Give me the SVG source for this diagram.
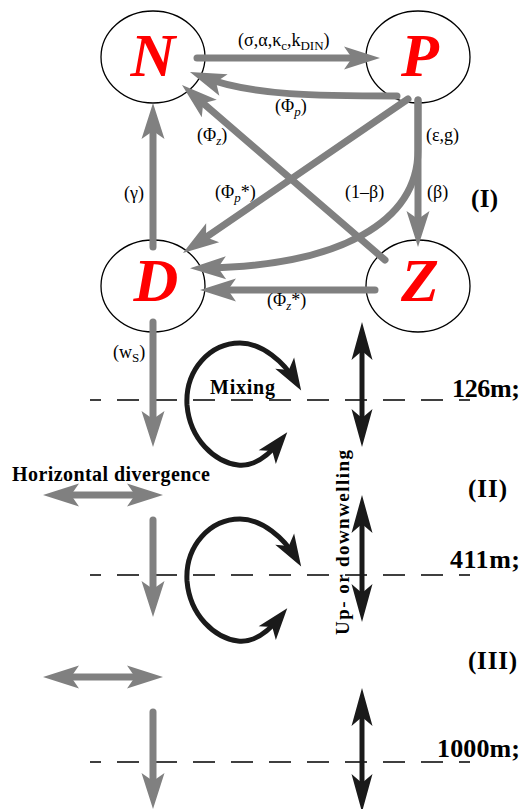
<svg xmlns="http://www.w3.org/2000/svg" width="525" height="809" viewBox="0 0 525 809">
<style>
.node{fill:#fff;stroke:#000;stroke-width:1.3}
.big{font-family:"Liberation Serif",serif;font-weight:bold;font-style:italic;font-size:62px;fill:#f00;text-anchor:middle}
.g{fill:none;stroke:#808080;stroke-width:7;stroke-linecap:round}
.k{fill:none;stroke:#1a1a1a;stroke-width:5}
.lbl{font-family:"Liberation Serif",serif;font-size:18px;fill:#000}
.b{font-family:"Liberation Serif",serif;font-weight:bold;fill:#000}
.dash{stroke:#000;stroke-width:1.3;stroke-dasharray:22 16;stroke-dashoffset:11}
</style>
<defs>
<marker id="ga" markerUnits="userSpaceOnUse" orient="auto-start-reverse" refX="-14" refY="0" markerWidth="1" markerHeight="1" overflow="visible">
<path d="M0,0 L-36,-11.5 L-28,0 L-36,11.5 Z" fill="#808080"/>
</marker>
<marker id="ka" markerUnits="userSpaceOnUse" orient="auto-start-reverse" refX="-12" refY="0" markerWidth="1" markerHeight="1" overflow="visible">
<path d="M0,0 L-38,-10.5 L-29,0 L-38,10.5 Z" fill="#1a1a1a"/>
</marker>
<marker id="ma" markerUnits="userSpaceOnUse" orient="auto-start-reverse" refX="-10" refY="0" markerWidth="1" markerHeight="1" overflow="visible">
<path d="M0,0 L-32,-11 L-24,0 L-32,11 Z" fill="#1a1a1a"/>
</marker>
</defs>
<rect width="525" height="809" fill="#fff"/>

<g id="layers">
<line class="dash" x1="90" y1="400" x2="470" y2="400"/>
<line class="dash" x1="90" y1="575" x2="470" y2="575"/>
<line class="dash" x1="90" y1="762" x2="470" y2="762"/>
</g>

<g id="node-N"><ellipse class="node" cx="153" cy="57" rx="52" ry="46"/><text class="big" x="153" y="76">N</text></g>
<g id="node-P"><ellipse class="node" cx="418" cy="57" rx="52" ry="46"/><text class="big" x="420" y="76">P</text></g>
<g id="node-D"><ellipse class="node" cx="153" cy="286" rx="52" ry="46"/><text class="big" x="156" y="301">D</text></g>
<g id="node-Z"><ellipse class="node" cx="418" cy="286" rx="52" ry="46"/><text class="big" x="420" y="301">Z</text></g>

<g id="connectors">
<path class="g" d="M197,58 L366,58" marker-end="url(#ga)"/>
<path class="g" d="M397,96 C320,96 252,96 203,77" marker-end="url(#ga)"/>
<path class="g" d="M385,260 L192.6,94.1" marker-end="url(#ga)"/>
<path class="g" d="M408,99 L194.5,245.1" marker-end="url(#ga)"/>
<path class="g" d="M418,100 L418,233" marker-end="url(#ga)"/>
<path class="g" d="M418,100 L418,150 C418,222 340,266 204,268" marker-end="url(#ga)"/>
<path class="g" d="M153,247 L153,117" marker-end="url(#ga)"/>
<path class="g" d="M375,290 L214,290" marker-end="url(#ga)"/>
<path class="g" d="M153,322 L153,433" marker-end="url(#ga)"/>
<path class="g" d="M153,520 L153,603" marker-end="url(#ga)"/>
<path class="g" d="M153,712 L153,795" marker-end="url(#ga)"/>
<path class="g" d="M57,495 L149,495" style="stroke-linecap:butt" marker-start="url(#ga)" marker-end="url(#ga)"/>
<path class="g" d="M57,677 L149,677" style="stroke-linecap:butt" marker-start="url(#ga)" marker-end="url(#ga)"/>
<path class="k" d="M362,334 L362,435" marker-start="url(#ka)" marker-end="url(#ka)"/>
<path class="k" d="M362,507 L362,610" marker-start="url(#ka)" marker-end="url(#ka)"/>
<path class="k" d="M362,700 L362,800" marker-start="url(#ka)" marker-end="url(#ka)"/>
<path class="k" d="M281,440 C269,455 255,467 238,465 C215,462 190,440 187,405 C185,370 210,343 240,343 C262,343 284,362 296,382" marker-start="url(#ma)" marker-end="url(#ma)"/>
<path class="k" transform="translate(0,176)" d="M281,440 C269,455 255,467 238,465 C215,462 190,440 187,405 C185,370 210,343 240,343 C262,343 284,362 296,382" marker-start="url(#ma)" marker-end="url(#ma)"/>
</g>

<g id="labels">
<text class="lbl" x="238" y="46">(σ,α,κ<tspan font-size="13" dy="4">c</tspan><tspan dy="-4">,k</tspan><tspan font-size="13" dy="4">DIN</tspan><tspan dy="-4">)</tspan></text>
<text class="lbl" x="275" y="112">(Φ<tspan font-size="13" font-style="italic" dy="4">p</tspan><tspan dy="-4">)</tspan></text>
<text class="lbl" x="197" y="141">(Φ<tspan font-size="13" font-style="italic" dy="4">z</tspan><tspan dy="-4">)</tspan></text>
<text class="lbl" x="426" y="141">(ε,g)</text>
<text class="lbl" x="124" y="199">(γ)</text>
<text class="lbl" x="215" y="198">(Φ<tspan font-size="13" font-style="italic" dy="4">p</tspan><tspan dy="-4">*)</tspan></text>
<text class="lbl" x="345" y="198">(1–β)</text>
<text class="lbl" x="427" y="198">(β)</text>
<text class="lbl" x="267" y="306">(Φ<tspan font-size="13" font-style="italic" dy="4">z</tspan><tspan dy="-4">*)</tspan></text>
<text class="lbl" x="113" y="358">(w<tspan font-size="13" dy="4">S</tspan><tspan dy="-4">)</tspan></text>
<text class="b" x="471" y="207" font-size="25" textLength="27">(I)</text>
<text class="b" x="468" y="497" font-size="25" textLength="39">(II)</text>
<text class="b" x="468" y="669" font-size="25" textLength="49">(III)</text>
<text class="b" x="210" y="394" font-size="20" textLength="65">Mixing</text>
<text class="b" x="12" y="481" font-size="20" textLength="198">Horizontal divergence</text>
<text class="b" x="452" y="397" font-size="26" textLength="68">126m;</text>
<text class="b" x="450" y="568" font-size="26" textLength="70">411m;</text>
<text class="b" x="437" y="757" font-size="26" textLength="83">1000m;</text>
<text class="b" transform="translate(349,635) rotate(-90)" x="0" y="0" font-size="19" textLength="185">Up- or downwelling</text>
</g>
</svg>
